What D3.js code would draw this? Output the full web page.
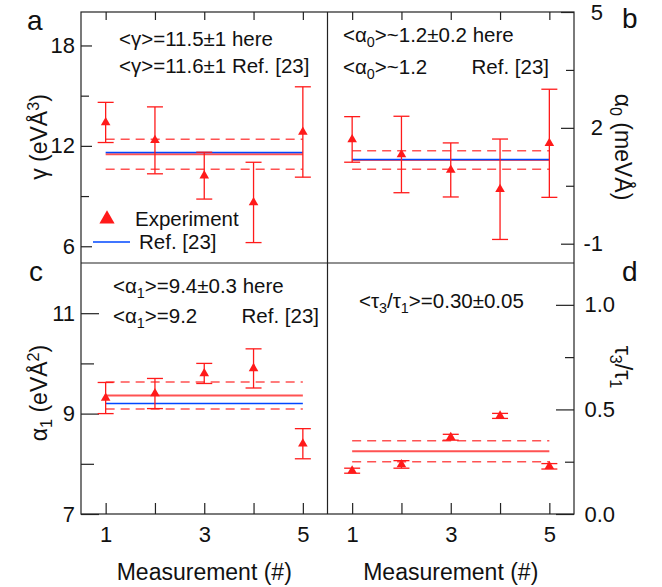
<!DOCTYPE html>
<html>
<head>
<meta charset="utf-8">
<script src="https://cdn.jsdelivr.net/npm/d3@7"></script>
<style>
  body { margin: 0; background: #fff; }
  svg text { font-family: "Liberation Sans", Arial, sans-serif; fill: #111; }
</style>
</head>
<body>
<div id="chart"></div>
<script>
// measurement index on the x axis
const measurement = [1, 2, 3, 4, 5];

// panel a: gamma (eV A^3)
const gammaVals = [13.4, 12.33, 10.22, 8.62, 12.83];
const gammaErr  = [1.2, 2.0, 1.4, 2.4, 2.7];
// panel b: alpha0 (meV A)
const alpha0Vals = [1.70, 1.31, 0.91, 0.41, 1.60];
const alpha0Err  = [0.59, 0.99, 0.70, 1.30, 1.40];
// panel c: alpha1 (eV A^2)
const alpha1Vals = [9.31, 9.40, 9.80, 9.90, 8.40];
const alpha1Err  = [0.31, 0.30, 0.20, 0.39, 0.30];
// panel d: tau3/tau1
const tauVals = [0.207, 0.237, 0.367, 0.469, 0.228];
const tauErr  = [0.012, 0.018, 0.014, 0.012, 0.013];

// mean of the measurements, +/- band (dashed), and Ref. [23] value (blue)
const meanVals = [11.5, 1.17, 9.36, 0.30];
const bandVals = [0.9, 0.24, 0.27, 0.05];
const refVals  = [11.6, 1.18, 9.2, null];

// axis ranges and ticks
const yDomains   = [[5, 20], [-1.5, 5], [7, 12], [0, 1.2]];
const majorTicks = [[6, 12, 18], [-1, 2, 5], [7, 9, 11], [0, 0.5, 1.0]];
const minorTicks = [[9, 15], [0.5, 3.5], [8, 10], [0.25, 0.75]];
const xLabelTicks = [1, 3, 5];

const W = 662, H = 587;
const frame = { left: 81, right: 574, top: 12, bottom: 514 };
const midX = (frame.left + frame.right) / 2;
const midY = (frame.top + frame.bottom) / 2;
const cols = [[frame.left, midX], [midX, frame.right]];
const rows = [[frame.top, midY], [midY, frame.bottom]];

const RED = "#ff1a1a", RED_LIGHT = "#ff5252", BLUE = "#0047ff", INK = "#222";

const svg = d3.select("#chart").append("svg")
    .attr("width", W)
    .attr("height", H);

const panels = [
  { col: 0, row: 0, vals: gammaVals,  errs: gammaErr },
  { col: 1, row: 0, vals: alpha0Vals, errs: alpha0Err },
  { col: 0, row: 1, vals: alpha1Vals, errs: alpha1Err },
  { col: 1, row: 1, vals: tauVals,    errs: tauErr }
];

// writes text made of plain / sub / sup pieces
function rich(textSel, parts, size) {
  let shift = 0;
  parts.forEach(p => {
    const target = p.sub ? 5 : p.sup ? -8 : 0;
    textSel.append("tspan")
        .attr("dy", target - shift)
        .attr("font-size", p.sub || p.sup ? size * 0.7 : size)
        .text(p.t);
    shift = target;
  });
  return textSel;
}

panels.forEach((p, i) => {
  const x = d3.scaleLinear().domain([0.5, 5.5]).range(cols[p.col]);
  const y = d3.scaleLinear().domain(yDomains[i]).range([rows[p.row][1], rows[p.row][0]]);
  const g = svg.append("g");

  // y axis, ticks pointing into the plot
  const majLen = p.row === 0 ? (p.col === 0 ? 11 : 13) : 18;
  const minLen = p.row === 0 ? 8 : (p.col === 0 ? 13 : 9);
  const side = p.col === 0 ? d3.axisLeft : d3.axisRight;
  const ax = g.append("g")
      .attr("transform", `translate(${p.col === 0 ? frame.left : frame.right},0)`)
      .call(side(y).tickValues(majorTicks[i]).tickSize(-majLen).tickPadding(6)
          .tickFormat(i === 3 ? d => d.toFixed(1) : d => String(d)));
  g.append("g")
      .attr("transform", `translate(${p.col === 0 ? frame.left : frame.right},0)`)
      .call(side(y).tickValues(minorTicks[i]).tickSize(-minLen).tickFormat(""));
  if (p.col === 1) {
    ax.selectAll("text").attr("text-anchor", "end").attr("x", i === 1 ? 29 : 41);
  }

  // x ticks: top edge for upper panels, bottom edge (with labels) for lower
  if (p.row === 0) {
    g.append("g")
        .attr("transform", `translate(0,${frame.top})`)
        .call(d3.axisTop(x).tickValues(measurement).tickSize(-8).tickFormat(""));
  } else {
    g.append("g")
        .attr("transform", `translate(0,${frame.bottom})`)
        .call(d3.axisBottom(x).tickValues(measurement).tickSize(-11).tickPadding(12)
            .tickFormat(d => xLabelTicks.includes(d) ? d : ""));
    g.append("text")
        .attr("x", (cols[p.col][0] + cols[p.col][1]) / 2)
        .attr("y", 580)
        .attr("text-anchor", "middle")
        .attr("font-size", 23)
        .text("Measurement (#)");
  }

  g.selectAll(".domain").remove();
  g.selectAll(".tick line").attr("stroke", INK).attr("stroke-width", 1.2);
  g.selectAll(".tick text").attr("font-size", 22).attr("fill", "#111");

  // mean, band and reference lines
  const x0 = x(measurement[0]), x1 = x(measurement[measurement.length - 1]);
  [meanVals[i] + bandVals[i], meanVals[i] - bandVals[i]].forEach(v => {
    g.append("line")
        .attr("x1", x0).attr("x2", x1).attr("y1", y(v)).attr("y2", y(v))
        .attr("stroke", RED_LIGHT).attr("stroke-width", 1.5)
        .attr("stroke-dasharray", "9,6");
  });
  g.append("line")
      .attr("x1", x0).attr("x2", x1).attr("y1", y(meanVals[i])).attr("y2", y(meanVals[i]))
      .attr("stroke", RED_LIGHT).attr("stroke-width", 2);
  if (refVals[i] !== null) {
    g.append("line")
        .attr("x1", x0).attr("x2", x1).attr("y1", y(refVals[i])).attr("y2", y(refVals[i]))
        .attr("stroke", BLUE).attr("stroke-width", 1.5);
  }

  // error bars and triangle markers
  const pts = g.selectAll(".pt")
      .data(measurement.map((m, k) => ({ m, v: p.vals[k], e: p.errs[k] })))
      .join("g").attr("class", "pt");
  pts.append("line")
      .attr("x1", d => x(d.m)).attr("x2", d => x(d.m))
      .attr("y1", d => y(d.v - d.e)).attr("y2", d => y(d.v + d.e))
      .attr("stroke", RED).attr("stroke-width", 1.3);
  pts.selectAll(".cap")
      .data(d => [d.v - d.e, d.v + d.e].map(c => ({ m: d.m, c })))
      .join("line").attr("class", "cap")
      .attr("x1", d => x(d.m) - 8).attr("x2", d => x(d.m) + 8)
      .attr("y1", d => y(d.c)).attr("y2", d => y(d.c))
      .attr("stroke", RED).attr("stroke-width", 1.3);
  pts.append("path")
      .attr("d", d3.symbol(d3.symbolTriangle, 40))
      .attr("transform", d => `translate(${x(d.m)},${y(d.v)})`)
      .attr("fill", RED);
});

// frame
svg.append("rect")
    .attr("x", frame.left).attr("y", frame.top)
    .attr("width", frame.right - frame.left).attr("height", frame.bottom - frame.top)
    .attr("fill", "none").attr("stroke", INK).attr("stroke-width", 1.2);
svg.append("line").attr("x1", midX).attr("x2", midX).attr("y1", frame.top).attr("y2", frame.bottom)
    .attr("stroke", INK).attr("stroke-width", 1.2);
svg.append("line").attr("x1", frame.left).attr("x2", frame.right).attr("y1", midY).attr("y2", midY)
    .attr("stroke", INK).attr("stroke-width", 1.2);

// panel letters
[["a", 27, 30], ["b", 622, 28], ["c", 29, 281], ["d", 622, 281]].forEach(([t, lx, ly]) => {
  svg.append("text").attr("x", lx).attr("y", ly).attr("font-size", 28).text(t);
});

// annotations
const AS = 20.5;
rich(svg.append("text").attr("x", 119).attr("y", 46), [{ t: "<γ>=11.5±1 here" }], AS);
rich(svg.append("text").attr("x", 119).attr("y", 73), [{ t: "<γ>=11.6±1 Ref. [23]" }], AS);
rich(svg.append("text").attr("x", 343).attr("y", 42),
    [{ t: "<α" }, { t: "0", sub: true }, { t: ">~1.2±0.2 here" }], AS);
rich(svg.append("text").attr("x", 343).attr("y", 74),
    [{ t: "<α" }, { t: "0", sub: true }, { t: ">~1.2" }], AS);
svg.append("text").attr("x", 549).attr("y", 74).attr("text-anchor", "end").attr("font-size", AS).text("Ref. [23]");
rich(svg.append("text").attr("x", 113).attr("y", 293),
    [{ t: "<α" }, { t: "1", sub: true }, { t: ">=9.4±0.3 here" }], AS);
rich(svg.append("text").attr("x", 113).attr("y", 323),
    [{ t: "<α" }, { t: "1", sub: true }, { t: ">=9.2" }], AS);
svg.append("text").attr("x", 319).attr("y", 323).attr("text-anchor", "end").attr("font-size", AS).text("Ref. [23]");
rich(svg.append("text").attr("x", 359).attr("y", 308),
    [{ t: "<τ" }, { t: "3", sub: true }, { t: "/τ" }, { t: "1", sub: true }, { t: ">=0.30±0.05" }], AS);

// legend in panel a
svg.append("path")
    .attr("d", d3.symbol(d3.symbolTriangle, 100))
    .attr("transform", "translate(107,219)")
    .attr("fill", RED);
svg.append("text").attr("x", 135).attr("y", 226).attr("font-size", 20.5).text("Experiment");
svg.append("line").attr("x1", 93).attr("x2", 130).attr("y1", 242).attr("y2", 242)
    .attr("stroke", BLUE).attr("stroke-width", 1.5);
svg.append("text").attr("x", 139).attr("y", 249).attr("font-size", 20.5).text("Ref. [23]");

// y axis titles
const TS = 23;
rich(svg.append("text").attr("text-anchor", "middle")
    .attr("transform", "translate(47,137) rotate(-90)"),
    [{ t: "γ (eVÅ" }, { t: "3", sup: true }, { t: ")" }], TS);
rich(svg.append("text").attr("text-anchor", "middle")
    .attr("transform", "translate(47,393) rotate(-90)"),
    [{ t: "α" }, { t: "1", sub: true }, { t: " (eVÅ" }, { t: "2", sup: true }, { t: ")" }], TS);
rich(svg.append("text").attr("text-anchor", "middle")
    .attr("transform", "translate(615,147) rotate(90)"),
    [{ t: "α" }, { t: "0", sub: true }, { t: " (meVÅ)" }], TS);
rich(svg.append("text").attr("text-anchor", "middle")
    .attr("transform", "translate(615,367) rotate(90)"),
    [{ t: "τ" }, { t: "3", sub: true }, { t: "/τ" }, { t: "1", sub: true }], TS);
</script>
</body>
</html>
